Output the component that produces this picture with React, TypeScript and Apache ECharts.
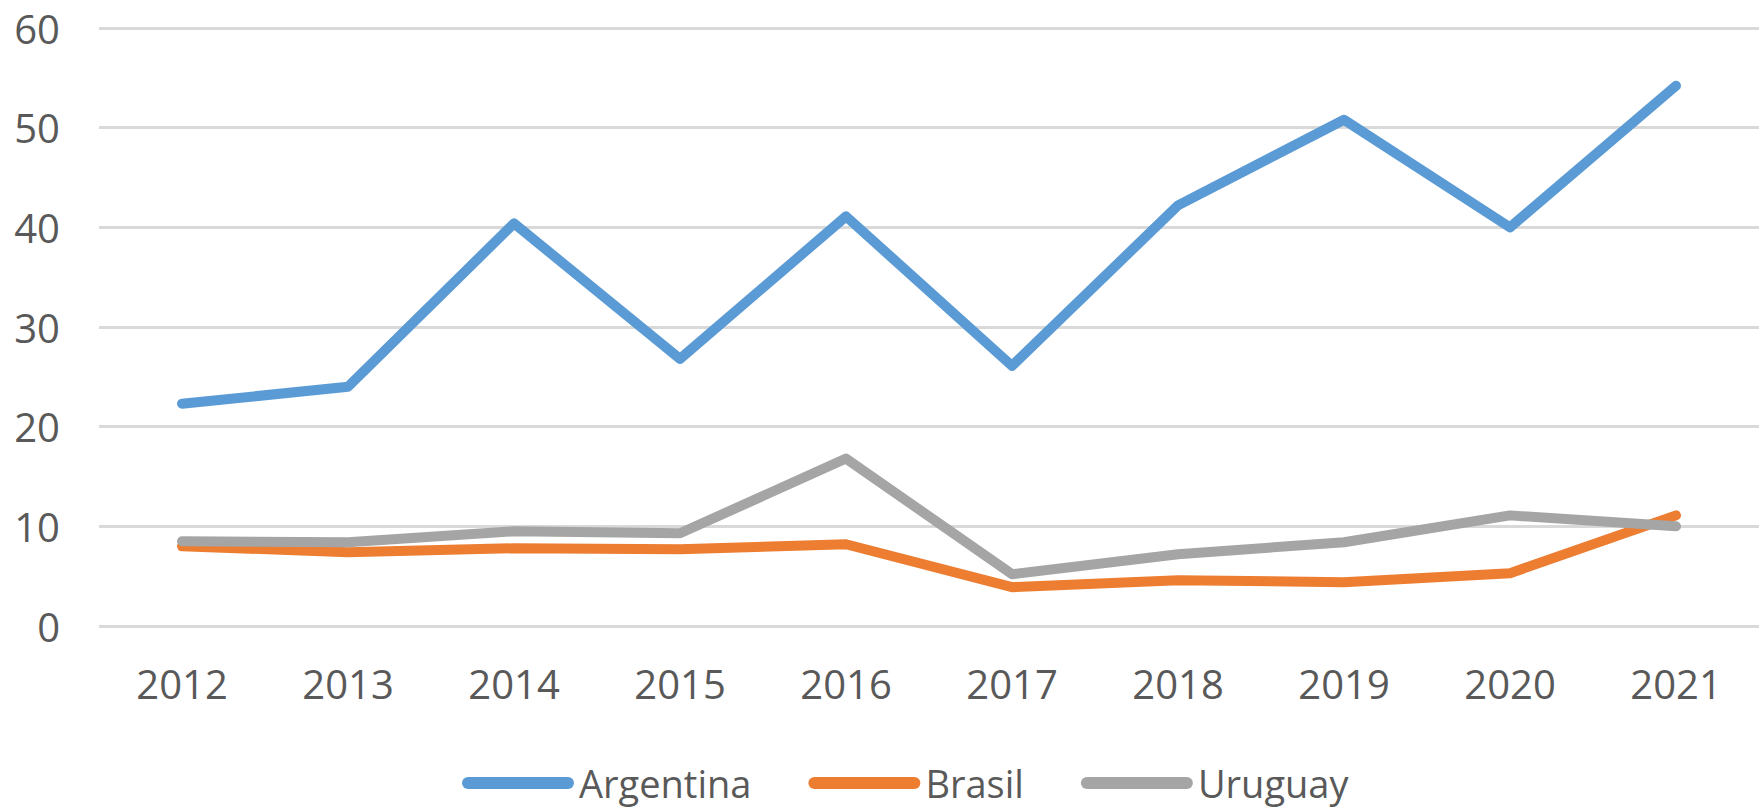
import React, { useEffect, useRef } from "react";
import * as echarts from "echarts";

const years = ["2012", "2013", "2014", "2015", "2016", "2017", "2018", "2019", "2020", "2021"];
const argentina = [22.3, 24.0, 40.4, 26.8, 41.1, 26.1, 42.2, 50.8, 40.0, 54.2];
const brasil = [8.0, 7.4, 7.8, 7.7, 8.2, 3.9, 4.6, 4.4, 5.3, 11.1];
const uruguay = [8.5, 8.4, 9.5, 9.3, 16.8, 5.2, 7.2, 8.4, 11.1, 10.0];
const seriesNames = ["Argentina", "Brasil", "Uruguay"];
const colors = ["#5B9BD5", "#ED7D31", "#A5A5A5"];

const FONT = "'Open Sans', sans-serif";
const pill = "path://M6,0 L106,0 A6,6 0 0,1 106,12 L6,12 A6,6 0 0,1 6,0 Z";

export default function App() {
  const ref = useRef<HTMLDivElement>(null);
  useEffect(() => {
    if (!ref.current) return;
    const chart = echarts.init(ref.current, undefined, { renderer: "svg" });
    const datasets = [argentina, brasil, uruguay];
    chart.setOption({
      animation: false,
      backgroundColor: "#ffffff",
      color: colors,
      textStyle: { fontFamily: FONT },
      grid: { left: 99, right: -18, top: 28, bottom: 185, containLabel: false },
      legend: {
        data: seriesNames.map((n) => ({ name: n, icon: pill })),
        left: 462,
        top: 764,
        padding: 0,
        itemWidth: 112,
        itemHeight: 12,
        itemGap: 57,
        textStyle: { fontFamily: FONT, fontSize: 38, lineHeight: 38, color: "#595959" },
      },
      xAxis: {
        type: "category",
        data: years,
        boundaryGap: true,
        axisLine: { show: false },
        axisTick: { show: false },
        axisLabel: { fontFamily: FONT, fontSize: 40, color: "#595959", margin: 37 },
      },
      yAxis: {
        type: "value",
        min: 0,
        max: 60,
        interval: 10,
        axisLine: { show: false },
        axisTick: { show: false },
        axisLabel: { fontFamily: FONT, fontSize: 40, color: "#595959", margin: 39 },
        splitLine: { lineStyle: { color: "#D9D9D9", width: 3 } },
      },
      series: datasets.map((d, i) => ({
        name: seriesNames[i],
        type: "line",
        data: d,
        showSymbol: false,
        symbol: "none",
        lineStyle: { width: 10, color: colors[i], cap: "round", join: "round" },
        itemStyle: { color: colors[i] },
      })),
    });
    return () => chart.dispose();
  }, []);
  return (
    <div
      ref={ref}
      style={{ position: "fixed", left: 0, top: 0, width: 1759, height: 811 }}
    />
  );
}
